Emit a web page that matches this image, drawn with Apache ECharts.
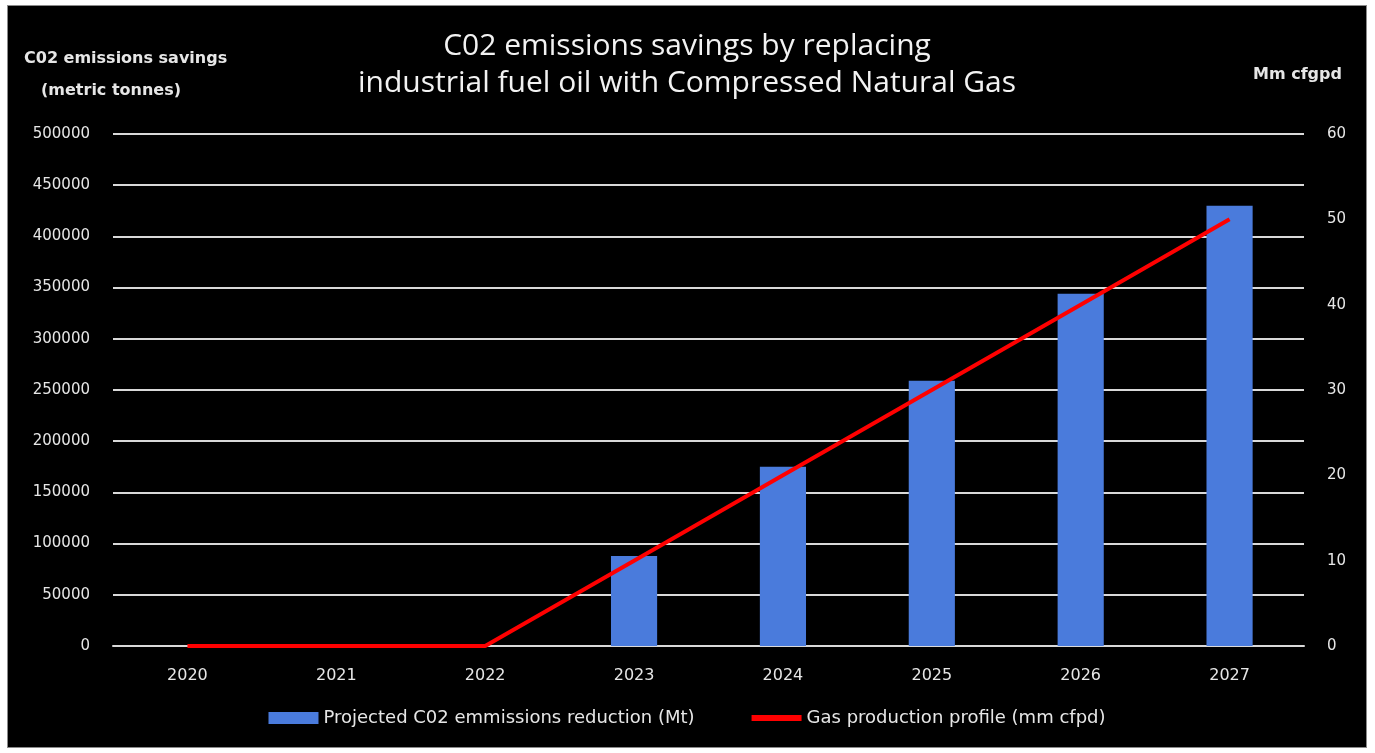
<!DOCTYPE html>
<html>
<head>
<meta charset="utf-8">
<script src="https://cdn.jsdelivr.net/npm/echarts@6/dist/echarts.min.js"></script>
<style>
  html, body { margin: 0; padding: 0; background: #ffffff; }
  #frame {
    position: absolute; left: 7px; top: 5px;
    width: 1358px; height: 741px;
    background: #000000; border: 1px solid #8a8a8a;
  }
  #chart { width: 1358px; height: 741px; }
</style>
</head>
<body>
<div id="frame"><div id="chart"></div></div>
<script>
// Years on the category axis
const years = ['2020', '2021', '2022', '2023', '2024', '2025', '2026', '2027'];
// CO2 savings per year, metric tonnes (left axis)
const co2Savings = [0, 0, 0, 88000, 175000, 259000, 344000, 430000];
// Gas production profile, mm cfpd (right axis)
const gasProduction = [0, 0, 0, 10, 20, 30, 40, 50];

const TITLE_FONT = '"Open Sans", sans-serif';
const FONT = '"DejaVu Sans", sans-serif';
const TEXT = '#e6e6e6';

const chart = echarts.init(document.getElementById('chart'), null, { renderer: 'canvas' });

chart.setOption({
  backgroundColor: '#000000',
  animation: false,
  title: {
    text: 'C02 emissions savings by replacing\nindustrial fuel oil with Compressed Natural Gas',
    left: 'center',
    top: 17,
    textStyle: {
      color: '#f2f2f2',
      fontFamily: TITLE_FONT,
      fontWeight: 'normal',
      fontSize: 30,
      lineHeight: 37
    }
  },
  graphic: [
    {
      type: 'text', left: 16, top: 45,
      style: { text: 'C02 emissions savings', fill: TEXT, font: 'bold 16px ' + FONT }
    },
    {
      type: 'text', left: 33, top: 77,
      style: { text: '(metric tonnes)', fill: TEXT, font: 'bold 16px ' + FONT }
    },
    {
      type: 'text', left: 1245, top: 61,
      style: { text: 'Mm cfgpd', fill: TEXT, font: 'bold 16px ' + FONT }
    }
  ],
  legend: {
    bottom: 15,
    left: 'center',
    itemGap: 54,
    itemWidth: 50,
    itemHeight: 12,
    textStyle: { color: TEXT, fontFamily: FONT, fontSize: 18 },
    data: [
      { name: 'Projected C02 emmissions reduction (Mt)', icon: 'rect' },
      {
        name: 'Gas production profile (mm cfpd)',
        itemStyle: { opacity: 0 },
        lineStyle: { width: 6 }
      }
    ]
  },
  grid: { left: 105, right: 62, top: 128, bottom: 101 },
  xAxis: {
    type: 'category',
    data: years,
    axisLine: { show: true, lineStyle: { color: '#d9d9d9', width: 2 } },
    axisTick: { show: false },
    axisLabel: { color: TEXT, fontFamily: FONT, fontSize: 16, margin: 22 }
  },
  yAxis: [
    {
      type: 'value',
      min: 0, max: 500000, interval: 50000,
      axisLine: { show: false },
      axisTick: { show: false },
      axisLabel: {
        color: TEXT, fontFamily: FONT, fontSize: 15, margin: 23,
        formatter: (v) => String(v)
      },
      splitLine: { show: true, lineStyle: { color: '#d9d9d9', width: 2 } }
    },
    {
      type: 'value',
      min: 0, max: 60, interval: 10,
      position: 'right',
      axisLine: { show: false },
      axisTick: { show: false },
      axisLabel: { color: TEXT, fontFamily: FONT, fontSize: 15, margin: 23 },
      splitLine: { show: false }
    }
  ],
  series: [
    {
      name: 'Projected C02 emmissions reduction (Mt)',
      type: 'bar',
      yAxisIndex: 0,
      data: co2Savings,
      barWidth: '31%',
      itemStyle: { color: '#4a7bdc' }
    },
    {
      name: 'Gas production profile (mm cfpd)',
      type: 'line',
      yAxisIndex: 1,
      data: gasProduction,
      symbol: 'none',
      lineStyle: { color: '#ff0000', width: 4 },
      itemStyle: { color: '#ff0000' }
    }
  ]
});
</script>
</body>
</html>
